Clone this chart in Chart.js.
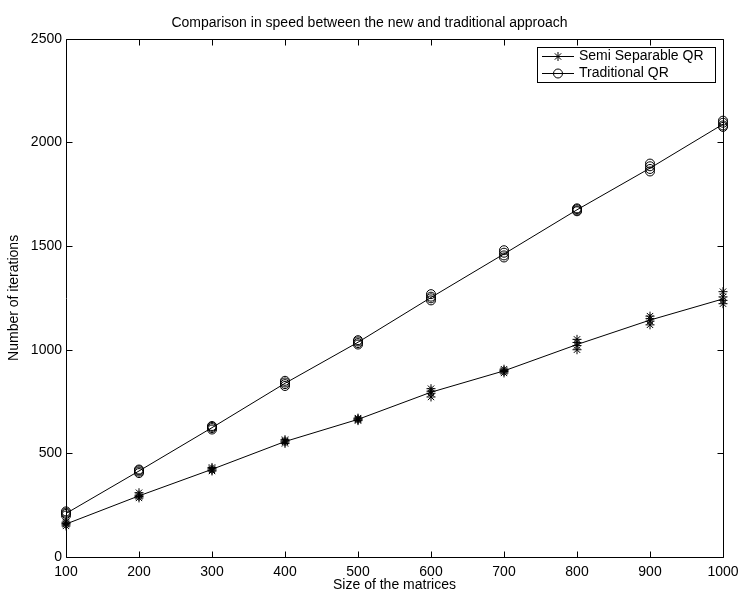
<!DOCTYPE html>
<html>
<head>
<meta charset="utf-8">
<script src="https://cdn.jsdelivr.net/npm/chart.js@4"></script>
<style>
  html, body { margin: 0; padding: 0; background: #fff; }
  #wrap { width: 739px; height: 594px; }
</style>
</head>
<body>
<div id="wrap"><canvas id="chart"></canvas></div>
<script>
// matrix sizes on the x axis
const sizes = [100, 200, 300, 400, 500, 600, 700, 800, 900, 1000];

// line through the runs
const semiLine = [159, 295, 423, 557, 664, 795, 898, 1025, 1143, 1245];
const tradLine = [210, 415, 624, 838, 1036, 1252, 1462, 1675, 1876, 2088];

// individual runs for each size
const semiRuns = [
    [150, 158, 162, 168],
    [285, 292, 298, 310],
    [415, 420, 426, 432],
    [548, 555, 560, 566],
    [658, 662, 666, 670],
    [772, 790, 800, 812],
    [888, 895, 900, 906],
    [1000, 1020, 1035, 1050],
    [1120, 1138, 1150, 1162],
    [1222, 1238, 1255, 1280],
];
const tradRuns = [
    [200, 208, 214, 220],
    [405, 412, 418, 422],
    [615, 622, 628, 632],
    [825, 834, 842, 850],
    [1025, 1032, 1040, 1046],
    [1238, 1248, 1256, 1268],
    [1445, 1455, 1468, 1480],
    [1668, 1672, 1678, 1682],
    [1860, 1872, 1885, 1898],
    [2075, 2082, 2095, 2105],
];

const seriesNames = ['Semi Separable QR', 'Traditional QR'];
const FONT = 'Helvetica, Arial, "Liberation Sans", sans-serif';

function toPoints(runs) {
    return sizes.flatMap((s, i) => runs[i].map((v) => ({ x: s, y: v })));
}

/**
 * Draws the MATLAB style box with inward ticks and the boxed legend
 */
const matlabAxes = {
    id: 'matlabAxes',
    afterDraw(chart) {
        const ctx = chart.ctx;
        const { left, right, top, bottom } = chart.chartArea;
        const xs = chart.scales.x;
        const ys = chart.scales.y;
        const L = Math.round(left) + 0.5;
        const R = Math.round(right) + 0.5;
        const T = Math.round(top) + 0.5;
        const B = Math.round(bottom) + 0.5;
        const tl = 6;
        ctx.save();
        ctx.strokeStyle = '#000';
        ctx.lineWidth = 1;
        ctx.beginPath();
        ctx.rect(L, T, R - L, B - T);
        xs.ticks.forEach((t) => {
            const px = Math.round(xs.getPixelForValue(t.value)) + 0.5;
            ctx.moveTo(px, B); ctx.lineTo(px, B - tl);
            ctx.moveTo(px, T); ctx.lineTo(px, T + tl);
        });
        ys.ticks.forEach((t) => {
            const py = Math.round(ys.getPixelForValue(t.value)) + 0.5;
            ctx.moveTo(L, py); ctx.lineTo(L + tl, py);
            ctx.moveTo(R, py); ctx.lineTo(R - tl, py);
        });
        ctx.stroke();

        // legend
        const bx = 537.5, by = 47.5, bw = 178, bh = 35;
        ctx.fillStyle = '#fff';
        ctx.fillRect(bx, by, bw, bh);
        ctx.strokeRect(bx, by, bw, bh);
        ctx.font = '14px ' + FONT;
        ctx.textBaseline = 'middle';
        ctx.textAlign = 'left';
        ctx.fillStyle = '#000';
        seriesNames.forEach((name, i) => {
            const y = 56 + i * 17 + 0.5;
            ctx.beginPath();
            ctx.moveTo(542, y); ctx.lineTo(574, y);
            const cx = 558, r = 4.5;
            if (i === 0) {
                ctx.moveTo(cx - r, y); ctx.lineTo(cx + r, y);
                ctx.moveTo(cx, y - r); ctx.lineTo(cx, y + r);
                const d = r * 0.707;
                ctx.moveTo(cx - d, y - d); ctx.lineTo(cx + d, y + d);
                ctx.moveTo(cx - d, y + d); ctx.lineTo(cx + d, y - d);
            } else {
                ctx.moveTo(cx + r, y);
                ctx.arc(cx, y, r, 0, Math.PI * 2);
            }
            ctx.stroke();
            ctx.fillText(name, 579, y);
        });
        ctx.restore();
    },
};

new Chart(document.getElementById('chart'), {
    type: 'scatter',
    data: {
        datasets: [
            {
                label: seriesNames[0],
                data: toPoints(semiRuns),
                pointStyle: 'star',
                pointRadius: 4.5,
                borderColor: '#000',
                borderWidth: 1,
                backgroundColor: 'rgba(0,0,0,0)',
                showLine: false,
                clip: false,
            },
            {
                label: seriesNames[1],
                data: toPoints(tradRuns),
                pointStyle: 'circle',
                pointRadius: 4.5,
                borderColor: '#000',
                borderWidth: 1,
                backgroundColor: 'rgba(0,0,0,0)',
                showLine: false,
                clip: false,
            },
            {
                type: 'line',
                data: sizes.map((s, i) => ({ x: s, y: semiLine[i] })),
                borderColor: '#000',
                borderWidth: 1,
                pointRadius: 0,
                fill: false,
                clip: false,
            },
            {
                type: 'line',
                data: sizes.map((s, i) => ({ x: s, y: tradLine[i] })),
                borderColor: '#000',
                borderWidth: 1,
                pointRadius: 0,
                fill: false,
                clip: false,
            },
        ],
    },
    plugins: [matlabAxes],
    options: {
        responsive: true,
        maintainAspectRatio: false,
        animation: false,
        layout: { padding: 0 },
        plugins: {
            legend: { display: false },
            tooltip: { enabled: false },
            title: {
                display: true,
                text: 'Comparison in speed between the new and traditional approach',
                color: '#000',
                font: { family: FONT, size: 14, weight: 'normal' },
                padding: { top: 15, bottom: 7 },
            },
        },
        scales: {
            x: {
                type: 'linear',
                min: 100,
                max: 1000,
                ticks: {
                    stepSize: 100, color: '#000', padding: 7,
                    font: { family: FONT, size: 14 },
                    callback: (v) => String(v),
                },
                grid: { display: false, drawTicks: false },
                border: { display: false },
                title: {
                    display: true,
                    text: 'Size of the matrices',
                    color: '#000',
                    font: { family: FONT, size: 14 },
                    padding: { top: 0, bottom: 0 },
                },
                afterFit: (scale) => {
                    scale.height = 37;
                    scale.paddingRight = 16;
                    scale.paddingLeft = 0;
                },
            },
            y: {
                min: 0,
                max: 2500,
                ticks: {
                    stepSize: 500, color: '#000', padding: 4,
                    font: { family: FONT, size: 14 },
                    callback: (v) => String(v),
                },
                grid: { display: false, drawTicks: false },
                border: { display: false },
                title: {
                    display: true,
                    text: 'Number of iterations',
                    color: '#000',
                    font: { family: FONT, size: 14 },
                    padding: { top: 6, bottom: 0 },
                },
                afterFit: (scale) => {
                    scale.width = 66;
                    scale.paddingTop = 0;
                    scale.paddingBottom = 0;
                },
            },
        },
    },
});
</script>
</body>
</html>
